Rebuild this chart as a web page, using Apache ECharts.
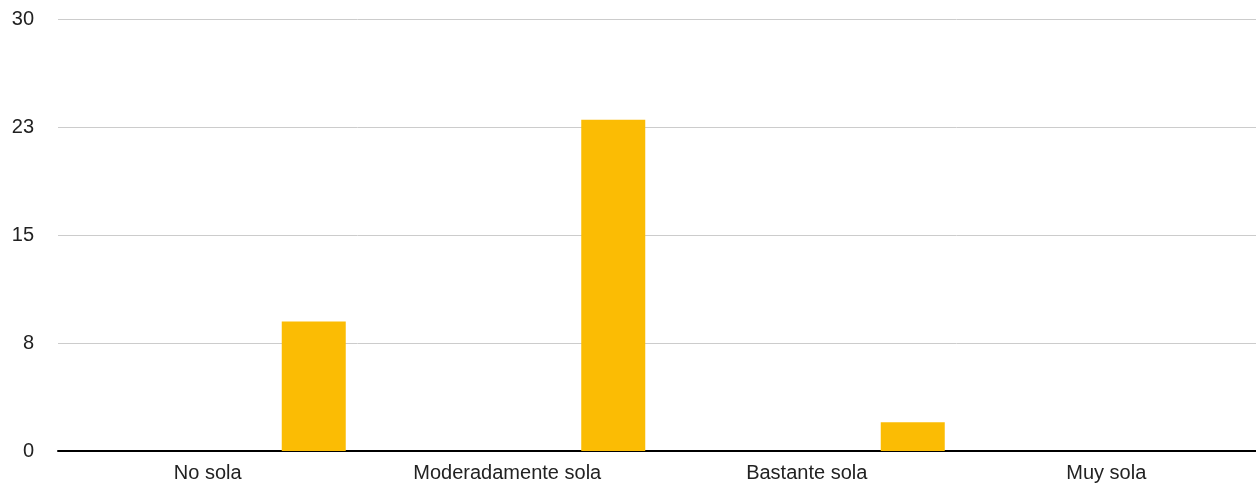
<!DOCTYPE html>
<html lang="es">
<head>
  <meta charset="UTF-8">
  <title>Soledad</title>
  <style>
    html, body { margin: 0; padding: 0; background: #fff; }
  </style>
</head>
<body>
<div id="main" style="width: 1256px;height:485px;"></div>
<script src="https://cdn.jsdelivr.net/npm/echarts@6/dist/echarts.min.js"></script>
<script type="text/javascript">
  const categories = ['No sola', 'Moderadamente sola', 'Bastante sola', 'Muy sola']
  const emptySeries = [0, 0, 0, 0]
  const counts = [9, 23, 2, 0]

  const Chart = echarts.init(document.getElementById('main'))

  const option = {
    animation: false,
    textStyle: { fontFamily: 'Liberation Sans, Arial, sans-serif' },
    grid: { left: 58, right: -2, top: 19, bottom: 34, containLabel: false },
    xAxis: {
      type: 'category',
      data: categories,
      axisTick: { show: false },
      axisLine: { lineStyle: { color: '#000', width: 2 } },
      axisLabel: { color: '#222', fontSize: 20, margin: 12 }
    },
    yAxis: {
      type: 'value',
      min: 0,
      max: 30,
      interval: 7.5,
      axisLine: { show: false },
      axisTick: { show: false },
      splitLine: { lineStyle: { color: '#cccccc', width: 1 } },
      axisLabel: {
        color: '#222',
        fontSize: 20,
        margin: 24,
        formatter: (v) => Math.round(v)
      }
    },
    series: [{
      name: 'vacío',
      type: 'bar',
      data: emptySeries,
      barWidth: 64,
      barGap: '231.25%',
      itemStyle: { color: '#4285f4' }
    }, {
      name: 'respuestas',
      type: 'bar',
      data: counts,
      barWidth: 64,
      barGap: '231.25%',
      itemStyle: { color: '#fbbc04' }
    }]
  }

  Chart.setOption(option)
</script>
</body>
</html>
